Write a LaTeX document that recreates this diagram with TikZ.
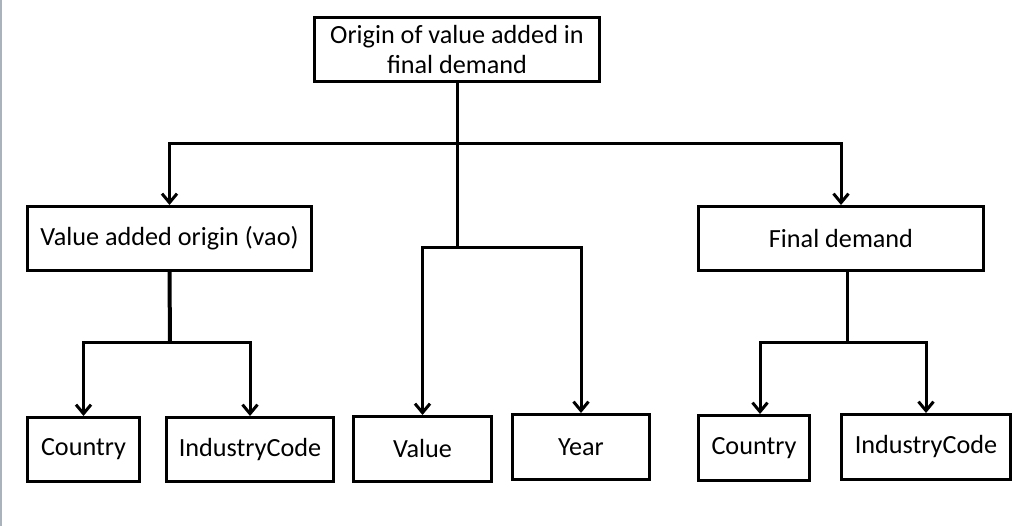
\documentclass[tikz,border=0pt]{standalone}
\usepackage{fontspec}
\setmainfont{Carlito}
\usetikzlibrary{arrows.meta,calc}
\definecolor{edgegray}{RGB}{170,178,188}
\begin{document}
\begin{tikzpicture}[x=1pt,y=-1pt,
  box/.style={draw, line width=3pt, inner sep=0pt, align=center,
    font=\fontsize{26.2}{30.5}\selectfont},
  conn/.style={line width=3pt},
  arr/.style={conn, -{Straight Barb[length=9pt,width=15pt]}}]
\useasboundingbox (0,0) rectangle (1021,526);
\fill[edgegray] (0,0) rectangle (2,526);
% nodes
\node[box, minimum width=285, minimum height=64] (top) at (457,49.5) {Origin of value added in\\final demand};
\node[box, minimum width=284, minimum height=64] (vao) at (169.5,238.5) {Value added origin (vao)};
\node[box, minimum width=285, minimum height=64] (fd) at (841,238.5) {Final demand};
\node[box, minimum width=112, minimum height=64] (c1) at (83.5,449.5) {Country};
\node[box, minimum width=167, minimum height=64] (i1) at (250,449.5) {IndustryCode};
\node[box, minimum width=138, minimum height=65] (value) at (422.5,449) {Value};
\node[box, minimum width=137, minimum height=65] (year) at (581,447) {Year};
\node[box, minimum width=111, minimum height=65] (c2) at (754,448) {Country};
\node[box, minimum width=169, minimum height=65] (i2) at (926,447) {IndustryCode};
% junctions
\coordinate (ja) at (457,144);
\coordinate (jb) at (457,248);
\coordinate (jc) at (170,343);
\coordinate (jd) at (847,343);
% connectors
\draw[conn] (top.south) -- (jb);
\draw[arr] (ja) -| (vao.north);
\draw[arr] (ja) -| (fd.north);
\draw[arr] (jb) -| (value.north);
\draw[arr] (jb) -| (year.north);
\draw[conn, line width=4pt] (vao.south) -- (jc);
\draw[arr] (jc) -| (c1.north);
\draw[arr] (jc) -| (i1.north);
\draw[conn] ([xshift=6pt]fd.south) -- (jd);
\draw[arr] (jd) -| ([xshift=6pt]c2.north);
\draw[arr] (jd) -| (i2.north);
\end{tikzpicture}
\end{document}
